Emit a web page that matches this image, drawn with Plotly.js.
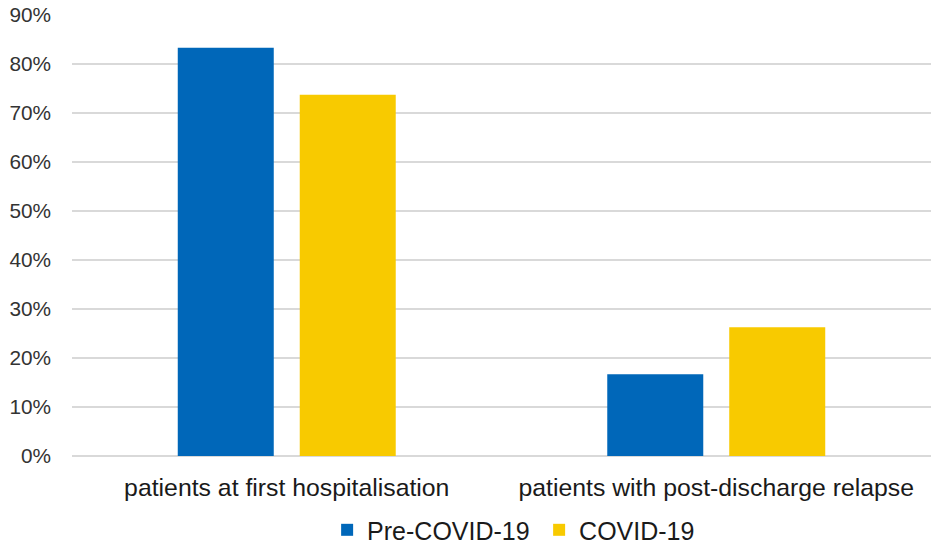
<!DOCTYPE html>
<html><head><meta charset="utf-8">
<script src="https://cdn.plot.ly/plotly-3.0.1.min.js"></script>
<style>html,body{margin:0;padding:0;background:#fff}</style>
</head><body>
<div id="chart" style="width:935px;height:551px"></div>
<script>
const categories = ["patients at first hospitalisation", "patients with post-discharge relapse"];
const preCovid = [0.833, 0.167];
const covid = [0.737, 0.263];
const seriesNames = ["Pre-COVID-19", "COVID-19"];

const data = [
  {type:'bar', name:seriesNames[0], x:categories, y:preCovid, marker:{color:'#0067B9'}, hoverinfo:'skip'},
  {type:'bar', name:seriesNames[1], x:categories, y:covid, marker:{color:'#F8CA00'}, hoverinfo:'skip'}
];
const layout = {
  width:935, height:551,
  margin:{l:72, r:4, t:15, b:95, autoexpand:false},
  paper_bgcolor:'#fff', plot_bgcolor:'#fff',
  font:{family:'Liberation Sans, Arial, sans-serif', size:22, color:'#1a1a1a'},
  barmode:'group', bargap:0.432, bargroupgap:0.213,
  xaxis:{showgrid:false, showline:false, ticks:'', tickfont:{size:24.8}, automargin:false, ticklabelstandoff:14},
  yaxis:{range:[0,0.9], dtick:0.1, tickformat:'.0%', gridcolor:'#d9d9d9', gridwidth:1.5, automargin:false,
         zeroline:true, zerolinecolor:'#d9d9d9', zerolinewidth:1.5, ticks:'', ticklabelstandoff:20, tickfont:{size:20.8, color:'#333'}},
  showlegend:true,
  legend:{orientation:'h', x:0.297, xanchor:'left', yref:'container', y:0.038, yanchor:'middle', font:{size:25}, itemwidth:30, entrywidth:167}
};
Plotly.newPlot('chart', data, layout, {displayModeBar:false, staticPlot:true});
</script>
</body></html>
